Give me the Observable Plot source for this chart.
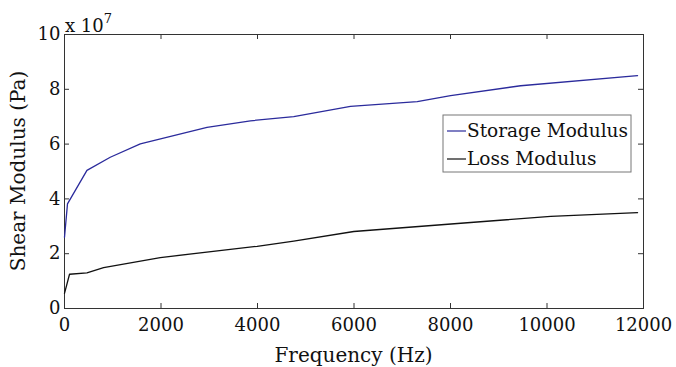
<!DOCTYPE html>
<html>
<head>
<meta charset="utf-8">
<script src="https://cdn.jsdelivr.net/npm/d3@7"></script>
<script src="https://cdn.jsdelivr.net/npm/@observablehq/plot@0.6"></script>
<style>
  html, body { margin: 0; padding: 0; background: #fff; }
  #chart { position: relative; width: 676px; height: 367px; }
</style>
</head>
<body>
<div id="chart"></div>
<script>
// Frequency (Hz) and modulus values (x 10^7 Pa)
const storageFreq = [0, 62, 465, 948, 1571, 2954, 3853, 4751, 5927, 7311, 8002, 9454, 11876];
const storageVal  = [2.6, 3.82, 5.04, 5.52, 6.01, 6.61, 6.85, 7.0, 7.38, 7.55, 7.77, 8.13, 8.50];
const lossFreq = [0, 104, 465, 810, 1985, 3992, 4751, 5996, 8348, 10077, 11876];
const lossVal  = [0.55, 1.25, 1.30, 1.49, 1.86, 2.27, 2.46, 2.81, 3.13, 3.36, 3.50];
const xTicks = [0, 2000, 4000, 6000, 8000, 10000, 12000];
const yTicks = [0, 2, 4, 6, 8, 10];
const seriesNames = ["Storage Modulus", "Loss Modulus"];
const seriesColors = ["#2b2b9c", "#111111"];

const storage = storageFreq.map((f, i) => ({f, v: storageVal[i]}));
const loss = lossFreq.map((f, i) => ({f, v: lossVal[i]}));

const W = 676, H = 367;
const mL = 64, mR = 33, mT = 34, mB = 59;
const plotH = H - mT - mB;
const plotW = W - mL - mR;
const font = "DejaVu Serif";
const tick = 5;

const chart = Plot.plot({
  width: W, height: H,
  marginLeft: mL, marginRight: mR, marginTop: mT, marginBottom: mB,
  style: {fontFamily: font, fontSize: "18px", color: "#111", background: "#fff", overflow: "visible"},
  x: {domain: [0, 12000]},
  y: {domain: [0, 10]},
  marks: [
    Plot.frame({stroke: "#333", strokeWidth: 1}),
    // inward ticks on all four sides
    Plot.tickX(xTicks, {x: d => d, stroke: "#333", insetTop: plotH - tick}),
    Plot.tickX(xTicks, {x: d => d, stroke: "#333", insetBottom: plotH - tick}),
    Plot.tickY(yTicks, {y: d => d, stroke: "#333", insetRight: plotW - tick}),
    Plot.tickY(yTicks, {y: d => d, stroke: "#333", insetLeft: plotW - tick}),
    Plot.axisX({ticks: xTicks, tickSize: 0, tickPadding: 10, tickFormat: d => String(d), fontSize: 18, label: null}),
    Plot.axisY({ticks: yTicks, tickSize: 0, tickPadding: 4, tickFormat: d => String(d), fontSize: 18, label: null}),
    Plot.line(storage, {x: "f", y: "v", stroke: seriesColors[0], strokeWidth: 1.3}),
    Plot.line(loss, {x: "f", y: "v", stroke: seriesColors[1], strokeWidth: 1.3})
  ]
});

const svg = d3.select(chart);
// axis labels
svg.append("text").attr("x", mL + plotW / 2).attr("y", 362)
  .attr("text-anchor", "middle").attr("font-family", font).attr("font-size", 20).attr("fill", "#111")
  .text("Frequency (Hz)");
svg.append("text").attr("transform", `translate(25,${mT + plotH / 2}) rotate(-90)`)
  .attr("text-anchor", "middle").attr("font-family", font).attr("font-size", 20).attr("fill", "#111")
  .text("Shear Modulus (Pa)");
// exponent
const ex = svg.append("text").attr("x", mL + 1).attr("y", 32).attr("text-anchor", "start")
  .attr("font-family", font).attr("font-size", 18).attr("fill", "#111");
ex.append("tspan").text("x 10");
ex.append("tspan").attr("dy", -9).attr("font-size", 13).text("7");

// legend
const lg = svg.append("g").attr("text-anchor", "start");
lg.append("rect").attr("x", 443).attr("y", 115).attr("width", 188).attr("height", 57)
  .attr("fill", "#fff").attr("stroke", "#777");
seriesNames.forEach((name, i) => {
  const y = 131 + i * 28;
  lg.append("line").attr("x1", 447).attr("x2", 466).attr("y1", y).attr("y2", y)
    .attr("stroke", seriesColors[i]).attr("stroke-width", 1.2);
  lg.append("text").attr("x", 467).attr("y", y).attr("dy", "0.35em").attr("text-anchor", "start")
    .attr("font-family", font).attr("font-size", 18.5).attr("fill", "#111").text(name);
});

document.getElementById("chart").appendChild(chart);
</script>
</body>
</html>
